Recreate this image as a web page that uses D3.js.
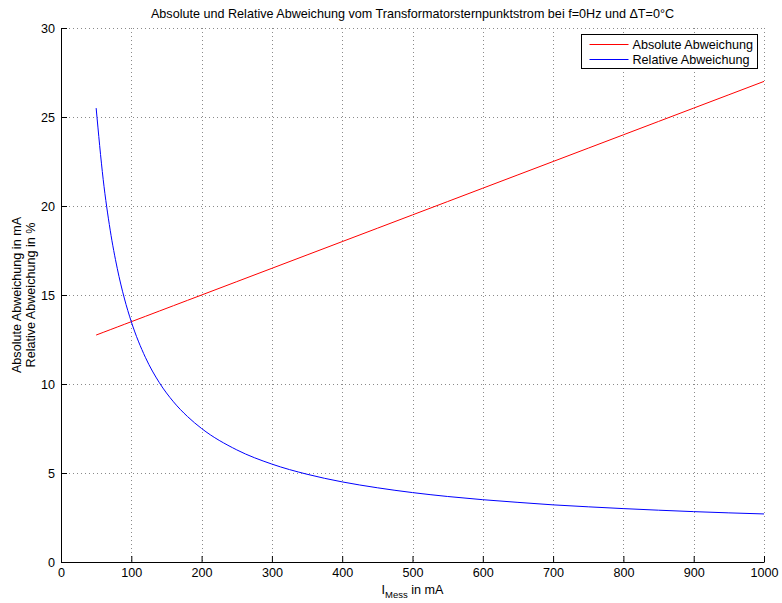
<!DOCTYPE html>
<html>
<head>
<meta charset="utf-8">
<script src="https://cdn.jsdelivr.net/npm/d3@7"></script>
<style>
  body { margin: 0; background: #fff; }
  text { font-family: "Liberation Sans", Arial, sans-serif; }
</style>
</head>
<body>
<div id="chart"></div>
<script>
// values
var current = [50, 60, 70, 80, 90, 100, 120, 140, 160, 180, 200, 250, 300, 350, 400,
  450, 500, 550, 600, 650, 700, 750, 800, 850, 900, 950, 1000];
var absDev = [12.75, 12.9, 13.05, 13.2, 13.35, 13.5, 13.8, 14.1, 14.4, 14.7, 15, 15.75, 16.5, 17.25, 18,
  18.75, 19.5, 20.25, 21, 21.75, 22.5, 23.25, 24, 24.75, 25.5, 26.25, 27];
var relDev = [25.5, 21.5, 18.64, 16.5, 14.83, 13.5, 11.5, 10.07, 9.0, 8.17, 7.5, 6.3, 5.5, 4.93, 4.5,
  4.17, 3.9, 3.68, 3.5, 3.35, 3.21, 3.1, 3.0, 2.91, 2.83, 2.76, 2.7];
var xTicks = [0, 100, 200, 300, 400, 500, 600, 700, 800, 900, 1000];
var yTicks = [0, 5, 10, 15, 20, 25, 30];
var seriesNames = ['Absolute Abweichung', 'Relative Abweichung'];
var seriesColors = ['#ff0000', '#0000ff'];

var fs = '12.6px';
var fullWidth = 782, fullHeight = 603;
var margin = {top: 28, right: 18, bottom: 41, left: 61};
var width = fullWidth - margin.left - margin.right;
var height = fullHeight - margin.top - margin.bottom;

var svg = d3.select('#chart').append('svg')
  .attr('width', fullWidth)
  .attr('height', fullHeight);

var g = svg.append('g')
  .attr('transform', 'translate(' + margin.left + ',' + margin.top + ')');

var xScale = d3.scaleLinear().domain([0, 1000]).range([0, width]);
var yScale = d3.scaleLinear().domain([0, 30]).range([height, 0]);

// dotted grid
var grid = g.append('g').attr('class', 'grid')
  .attr('stroke', '#8a8a8a')
  .attr('stroke-width', 1)
  .attr('stroke-dasharray', '1,3');
grid.selectAll('line.vx')
  .data(xTicks.slice(1))
  .enter().append('line')
    .attr('x1', function(d) { return Math.round(xScale(d)) + 0.5; })
    .attr('x2', function(d) { return Math.round(xScale(d)) + 0.5; })
    .attr('y1', 0)
    .attr('y2', height);
grid.selectAll('line.hy')
  .data(yTicks.slice(1))
  .enter().append('line')
    .attr('y1', function(d) { return Math.round(yScale(d)) + 0.5; })
    .attr('y2', function(d) { return Math.round(yScale(d)) + 0.5; })
    .attr('x1', 0)
    .attr('x2', width);

// axes, ticks pointing inwards
var xAxis = d3.axisBottom(xScale).tickValues(xTicks).tickFormat(d3.format('d'))
  .tickSizeInner(-6).tickSizeOuter(0).tickPadding(6);
var yAxis = d3.axisLeft(yScale).tickValues(yTicks).tickFormat(d3.format('d'))
  .tickSizeInner(-6).tickSizeOuter(0).tickPadding(6);

var xAxisEle = g.append('g')
  .attr('transform', 'translate(0,' + height + ')')
  .call(xAxis);
var yAxisEle = g.append('g')
  .call(yAxis);

[xAxisEle, yAxisEle].forEach(function(a) {
  a.select('.domain').attr('stroke', '#000');
  a.selectAll('.tick line').attr('stroke', '#000');
  a.selectAll('.tick text')
    .attr('fill', '#000')
    .style('font-size', fs)
    .style('font-family', '"Liberation Sans", Arial, sans-serif');
});

// lines
var line = function(vals) {
  return d3.line()
    .x(function(d, i) { return xScale(current[i]); })
    .y(function(d) { return yScale(d); })
    .curve(d3.curveMonotoneX)(vals);
};
[absDev, relDev].forEach(function(vals, i) {
  g.append('path')
    .attr('d', line(vals))
    .attr('fill', 'none')
    .attr('stroke', seriesColors[i])
    .attr('stroke-width', 1);
});

// title
svg.append('text')
  .attr('x', margin.left + width / 2)
  .attr('y', 18)
  .attr('text-anchor', 'middle')
  .style('font-size', fs)
  .text('Absolute und Relative Abweichung vom Transformatorsternpunktstrom bei f=0Hz und \u0394T=0\u00b0C');

// x label with subscript
var xl = svg.append('text')
  .attr('x', margin.left + width / 2)
  .attr('y', 594)
  .attr('text-anchor', 'middle')
  .style('font-size', fs);
xl.append('tspan').text('I');
xl.append('tspan').attr('dy', 4).style('font-size', '9.5px').text('Mess');
xl.append('tspan').attr('dy', -4).text(' in mA');

// y label, two lines
var yl = svg.append('text')
  .attr('transform', 'translate(21,' + (margin.top + height / 2) + ') rotate(-90)')
  .attr('text-anchor', 'middle')
  .style('font-size', fs);
yl.append('tspan').attr('x', 0).attr('dy', 0).text('Absolute Abweichung in mA');
yl.append('tspan').attr('x', 0).attr('dy', 13.5).text('Relative Abweichung in %');

// legend
var legend = svg.append('g').attr('transform', 'translate(581.5,34.5)');
legend.append('rect')
  .attr('width', 176)
  .attr('height', 34)
  .attr('fill', '#fff')
  .attr('stroke', '#000')
  .attr('stroke-width', 1);
seriesNames.forEach(function(name, i) {
  var yy = 10 + i * 15;
  legend.append('line')
    .attr('x1', 8).attr('x2', 47)
    .attr('y1', yy).attr('y2', yy)
    .attr('stroke', seriesColors[i]);
  legend.append('text')
    .attr('x', 51)
    .attr('y', yy + 4.5)
    .style('font-size', fs)
    .text(name);
});
</script>
</body>
</html>
